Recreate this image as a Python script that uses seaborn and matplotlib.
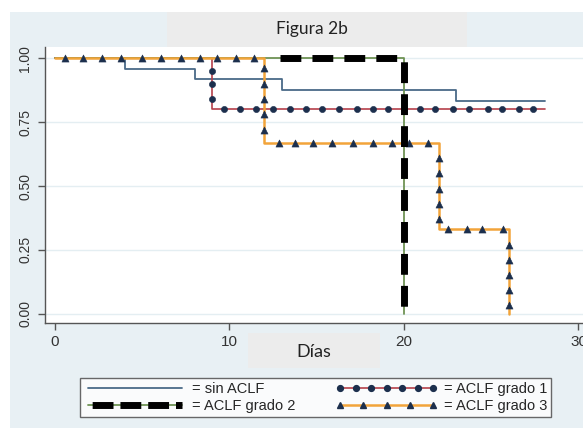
import matplotlib
matplotlib.use("Agg")
import matplotlib.pyplot as plt
import seaborn as sns
from matplotlib.lines import Line2D
from matplotlib.patches import Rectangle
from matplotlib.legend_handler import HandlerLine2D, HandlerTuple

# -------------------------------------------------
# Datos
# -------------------------------------------------
sin_t = [0, 4, 8, 13, 23, 28.1]
sin_s = [1.0, 0.958, 0.917, 0.875, 0.833, 0.833]

g1_t = [0, 9, 28.1]
g1_s = [1.0, 0.8, 0.8]
g1_mark_t = [9, 9, 9, 9.7, 10.6, 11.5, 12.5, 13.45, 14.4, 15.3, 16.3, 17.3,
             18.2, 19.1, 20.0, 20.9, 21.8, 22.8, 23.7, 24.8, 25.6, 26.6, 27.4]
g1_mark_s = [0.95, 0.90, 0.84] + [0.8] * 20

g2_t = [0, 20]
g2_s = [1.0, 0.0]
g2_dash_t = [12.9, 20]
g2_dash_s = [1.0, 0.0]

g3_t = [0, 12, 22, 26]
g3_s = [1.0, 0.667, 0.333, 0.0]
g3_mark_t = [0.6, 1.6, 2.7, 3.8, 5.0, 6.1, 7.2, 8.3, 9.3, 10.4, 11.4,
             12, 12, 12, 12, 12,
             12.85, 13.75, 14.8, 15.9, 17.1, 18.2, 19.3, 20.3, 21.4,
             22, 22, 22, 22, 22,
             22.5, 23.6, 24.5, 25.7,
             26, 26, 26, 26, 26]
g3_mark_s = ([1.0] * 11 + [0.96, 0.90, 0.84, 0.78, 0.72] + [0.667] * 9
             + [0.61, 0.55, 0.49, 0.43, 0.37] + [0.333] * 4
             + [0.27, 0.21, 0.15, 0.095, 0.035])

etiquetas = ["= sin ACLF", "= ACLF grado 1", "= ACLF grado 2", "= ACLF grado 3"]

# -------------------------------------------------
# Estilo
# -------------------------------------------------
sns.set_style("white")
plt.rcParams["font.family"] = ["Liberation Sans", "DejaVu Sans"]

c_sin = "#4a6a88"
c_g1 = "#b5404a"
c_g2 = "#6f9355"
c_g3 = "#f2a43a"
c_mark = "#1c2f4d"
c_bg = "#e8f0f4"
c_box = "#ececec"

W, H = 583, 428
fig = plt.figure(figsize=(W / 100, H / 100), dpi=100, facecolor="white")

# fondos
fig.add_artist(Rectangle((10 / W, 0), 1, 1 - 12 / H, transform=fig.transFigure,
                         facecolor=c_bg, edgecolor="none", zorder=-10))
fig.add_artist(Rectangle((167 / W, 1 - 47 / H), 300 / W, 35 / H, transform=fig.transFigure,
                         facecolor=c_box, edgecolor="none", zorder=-9))
fig.add_artist(Rectangle((248 / W, 1 - 368 / H), 132 / W, 35 / H, transform=fig.transFigure,
                         facecolor=c_box, edgecolor="none", zorder=-9))

ax = fig.add_axes([45 / W, 105 / H, 1 - 45 / W, 276 / H])
ax.set_facecolor("white")

# -------------------------------------------------
# Curvas
# -------------------------------------------------
sns.lineplot(x=sin_t, y=sin_s, drawstyle="steps-post", color=c_sin, linewidth=1.3,
             estimator=None, sort=False, ax=ax, zorder=2)
sns.lineplot(x=g1_t, y=g1_s, drawstyle="steps-post", color=c_g1, linewidth=1.2,
             estimator=None, sort=False, ax=ax, zorder=3)
sns.lineplot(x=g2_t, y=g2_s, drawstyle="steps-post", color=c_g2, linewidth=1.3,
             estimator=None, sort=False, ax=ax, zorder=3)
sns.lineplot(x=g3_t, y=g3_s, drawstyle="steps-post", color=c_g3, linewidth=1.8,
             estimator=None, sort=False, ax=ax, zorder=4)
sns.scatterplot(x=g1_mark_t, y=g1_mark_s, marker="o", s=20, color=c_mark,
                edgecolor=c_mark, linewidth=0.4, ax=ax, zorder=5)
sns.scatterplot(x=g3_mark_t, y=g3_mark_s, marker="^", s=26, color=c_mark,
                edgecolor=c_mark, linewidth=0.4, ax=ax, zorder=5)
sns.lineplot(x=g2_dash_t, y=g2_dash_s, drawstyle="steps-post", color="black",
             linewidth=5, linestyle=(0, (3.0, 1.6)), estimator=None, sort=False,
             ax=ax, zorder=6)

# -------------------------------------------------
# Ejes
# -------------------------------------------------
ax.set_xlim(-0.57, 30.26)
ax.set_ylim(-0.036, 1.044)
ax.set_xticks([0, 10, 20, 30])
ax.set_yticks([0, 0.25, 0.5, 0.75, 1.0])
ax.set_yticklabels(["0.00", "0.25", "0.50", "0.75", "1.00"], rotation=90, va="center")
ax.tick_params(axis="x", labelsize=11, length=5, width=1, color="#555555",
               labelcolor="#333333", bottom=True, pad=4)
ax.tick_params(axis="y", labelsize=10, length=5, width=1, color="#555555",
               labelcolor="#333333", left=True, pad=4)
ax.grid(axis="y", color="#e4eef2", linewidth=1)
ax.grid(axis="x", visible=False)
for lado in ["top", "right"]:
    ax.spines[lado].set_visible(False)
for lado in ["left", "bottom"]:
    ax.spines[lado].set_color("#555555")
    ax.spines[lado].set_linewidth(1)
ax.set_xlabel("")
ax.set_ylabel("")

fig.text(312 / W, 1 - 29 / H, "Figura 2b", ha="center", va="center", fontsize=12.5,
         family=["Lato", "DejaVu Sans"], color="#222222")
fig.text(314 / W, 1 - 352 / H, "Días", ha="center", va="center", fontsize=13,
         family=["Lato", "DejaVu Sans"], color="#222222")

# -------------------------------------------------
# Leyenda
# -------------------------------------------------
h_sin = Line2D([], [], color=c_sin, linewidth=1.3)
h_g1 = Line2D([], [], color=c_g1, linewidth=1.2, marker="o", markersize=4.2,
              markerfacecolor=c_mark, markeredgecolor=c_mark)
h_g2a = Line2D([], [], color=c_g2, linewidth=1.3)
h_g2b = Line2D([], [], color="black", linewidth=5, linestyle=(-0.6, (3.0, 1.0)))
h_g3 = Line2D([], [], color=c_g3, linewidth=1.8, marker="^", markersize=5,
              markerfacecolor=c_mark, markeredgecolor=c_mark)

leg = fig.legend([h_sin, (h_g2a, h_g2b), h_g1, h_g3],
                 [etiquetas[0], etiquetas[2], etiquetas[1], etiquetas[3]],
                 ncol=2, loc="center", mode="expand",
                 bbox_to_anchor=(73 / W, 1 - 422 / H, 485 / W, 49 / H),
                 handlelength=7.0, handletextpad=0.4, columnspacing=1.0,
                 labelspacing=0.2, borderpad=0.25, fontsize=10.5,
                 frameon=True, fancybox=False, numpoints=7,
                 handler_map={tuple: HandlerTuple(ndivide=1),
                              h_g3: HandlerLine2D(numpoints=5)})
leg.get_frame().set_edgecolor("#444444")
leg.get_frame().set_linewidth(1)
leg.get_frame().set_facecolor("white")

fig.savefig("out.png", dpi=100, facecolor="white")
